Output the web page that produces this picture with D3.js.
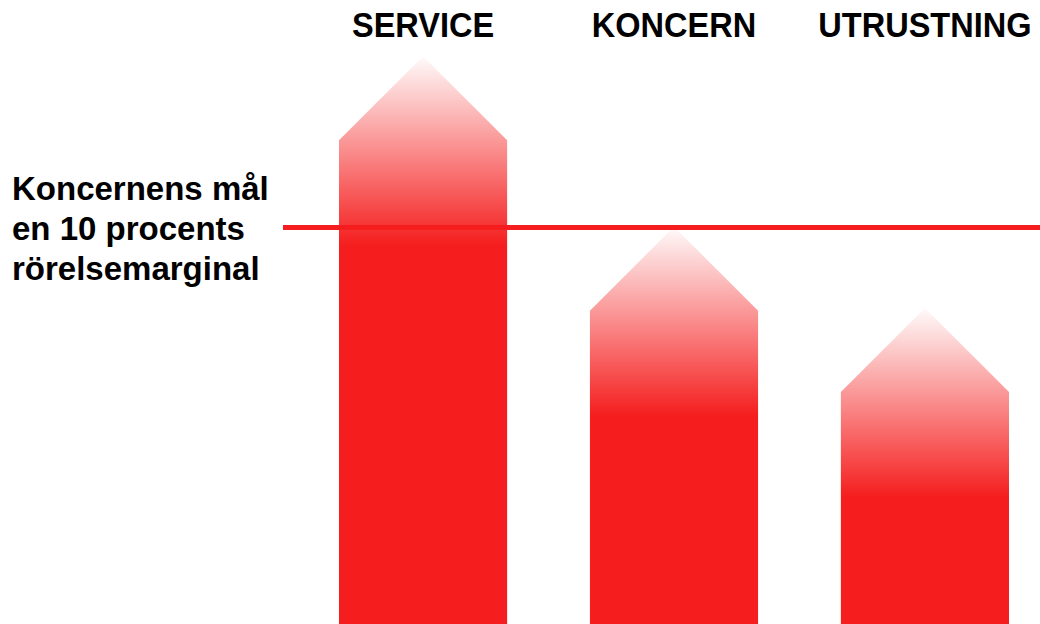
<!DOCTYPE html>
<html>
<head>
<meta charset="utf-8">
<script src="https://cdn.jsdelivr.net/npm/d3@7"></script>
<style>
  body { margin: 0; background: #fff; }
  .cat { font-family: "Liberation Sans", Arial, sans-serif; font-weight: bold; font-size: 35px; fill: #000; }
  .goal { font-family: "Liberation Sans", Arial, sans-serif; font-weight: bold; font-size: 33px; fill: #000; }
</style>
</head>
<body>
<div id="chart"></div>
<script>
// categories and margins (percent)
var categories = ["SERVICE", "KONCERN", "UTRUSTNING"];
var margins = [12.2, 7.9, 5.85];
var goalValue = 10;
var goalLines = ["Koncernens mål", "en 10 procents", "rörelsemarginal"];

var width = 1040,
    height = 624;

var red = "#f51d1d";

var svg = d3.select("#chart")
    .append("svg")
    .attr("width", width)
    .attr("height", height);

// scales
var xScale = d3.scaleBand()
    .domain(categories)
    .range([339, 1009])
    .paddingInner(0.33)
    .paddingOuter(0);

var yScale = d3.scaleLinear()
    .domain([0, goalValue])
    .range([height, 227.5]);

var bw = xScale.bandwidth();
var head = bw / 2;

// one gradient per bar, fading out towards the tip
var defs = svg.append("defs");
categories.forEach(function(c, i) {
    var tip = yScale(margins[i]) - head;
    var g = defs.append("linearGradient")
        .attr("id", "grad" + i)
        .attr("gradientUnits", "userSpaceOnUse")
        .attr("x1", 0).attr("x2", 0)
        .attr("y1", tip)
        .attr("y2", tip + 190);
    g.append("stop").attr("offset", 0).attr("stop-color", red).attr("stop-opacity", 0.02);
    g.append("stop").attr("offset", 1).attr("stop-color", red).attr("stop-opacity", 1);
});

// arrow shaped bars
svg.selectAll("path.bar")
    .data(categories)
    .enter()
    .append("path")
    .attr("class", "bar")
    .attr("fill", function(d, i) { return "url(#grad" + i + ")"; })
    .attr("d", function(d, i) {
        var x0 = xScale(d),
            x1 = x0 + bw,
            ys = yScale(margins[i]);
        return "M" + x0 + "," + height +
            "L" + x0 + "," + ys +
            "L" + (x0 + bw / 2) + "," + (ys - head) +
            "L" + x1 + "," + ys +
            "L" + x1 + "," + height + "Z";
    });

// goal line
svg.append("line")
    .attr("x1", 283)
    .attr("x2", width)
    .attr("y1", yScale(goalValue))
    .attr("y2", yScale(goalValue))
    .attr("stroke", red)
    .attr("stroke-width", 5);

// category labels on top, squeezed to look condensed
svg.selectAll("text.cat")
    .data(categories)
    .enter()
    .append("text")
    .attr("class", "cat")
    .attr("text-anchor", "middle")
    .attr("transform", function(d) {
        return "translate(" + (xScale(d) + bw / 2) + ",37) scale(0.93,1)";
    })
    .text(function(d) { return d; });

// goal text
svg.selectAll("text.goal")
    .data(goalLines)
    .enter()
    .append("text")
    .attr("class", "goal")
    .attr("x", 12)
    .attr("y", function(d, i) { return 200 + i * 40; })
    .text(function(d) { return d; });
</script>
</body>
</html>
